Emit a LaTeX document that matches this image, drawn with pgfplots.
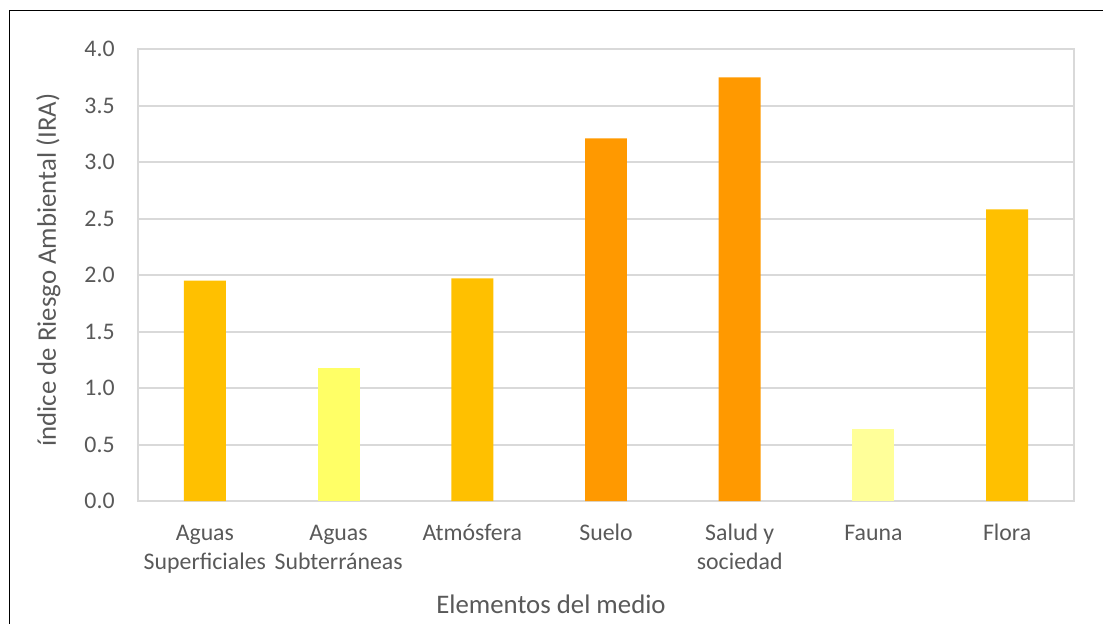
\documentclass[border=0pt]{standalone}
\usepackage{fontspec}
\setmainfont{Carlito}
\usepackage{pgfplots}
\pgfplotsset{compat=1.18}

\definecolor{txt}{HTML}{595959}
\definecolor{gridc}{HTML}{D9D9D9}
\definecolor{amber}{HTML}{FFC000}
\definecolor{orng}{HTML}{FF9900}
\definecolor{ylw}{HTML}{FFFF66}
\definecolor{paleylw}{HTML}{FFFF99}

\begin{document}
\begin{tikzpicture}
\path[use as bounding box] (-69pt,-61pt) rectangle (482.5pt,250.5pt);
\begin{axis}[
  at={(0,0)}, anchor=south west,
  scale only axis, width=468pt, height=226pt,
  xmin=-0.5, xmax=6.5, ymin=0, ymax=4,
  ybar, bar width=0.314, bar shift=0pt,
  xtick={0,1,2,3,4,5,6},
  xticklabels={{\strut Aguas\\Superficiales},{\strut Aguas\\Subterráneas},{\strut Atmósfera},{\strut Suelo},{\strut Salud y\\sociedad},{\strut Fauna},{\strut Flora}},
  ytick={0,0.5,1,1.5,2,2.5,3,3.5,4},
  yticklabel style={/pgf/number format/fixed, /pgf/number format/fixed zerofill, /pgf/number format/precision=1, /pgf/number format/assume math mode=true},
  major tick length=0pt,
  tick style={draw=none},
  ymajorgrids,
  grid style={color=gridc, line width=1pt},
  axis line style={color=gridc, line width=1pt},
  ticklabel style={text=txt, font=\fontsize{11.9}{14.5}\selectfont},
  yticklabel style={anchor=east, inner sep=0pt, xshift=-11.5pt},
  xticklabel style={anchor=north, inner sep=0pt, align=center, yshift=-9.35pt},
  xlabel={Elementos del medio},
  ylabel={índice de Riesgo Ambiental (IRA)},
  every axis x label/.style={at={([xshift=-27.5pt,yshift=-56pt]axis description cs:0.5,0)}, anchor=base, text=txt, font=\fontsize{13.4}{15}\selectfont},
  every axis y label/.style={at={([xshift=-41pt,yshift=2.5pt]axis description cs:0,0.5)}, rotate=90, anchor=base, text=txt, font=\fontsize{13.4}{15}\selectfont},
]
% Bars coloured by risk level
\addplot[fill=amber, draw=none] coordinates {(0,1.95) (2,1.97) (6,2.58)};
\addplot[fill=ylw, draw=none] coordinates {(1,1.18)};
\addplot[fill=orng, draw=none] coordinates {(3,3.21) (4,3.75)};
\addplot[fill=paleylw, draw=none] coordinates {(5,0.64)};
\end{axis}
% Outer frame
\draw[black, line width=0.9pt] (-64.25pt,-70pt) -- (-64.25pt,245.25pt) -- (490pt,245.25pt);
\end{tikzpicture}
\end{document}
